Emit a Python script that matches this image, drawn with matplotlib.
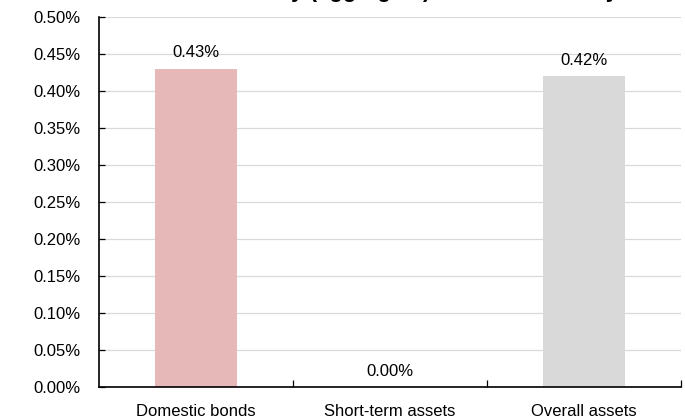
import matplotlib.pyplot as plt
from matplotlib.ticker import FuncFormatter

plt.rcParams['font.family'] = ['Liberation Sans', 'DejaVu Sans']

categories = ["Domestic bonds", "Short-term assets", "Overall assets"]
values = [0.43, 0.00, 0.42]
bar_colors = ["#e6b8b7", "#7f7350", "#d9d9d9"]
title = "Portfolio Volatility (aggregate) Annual Summary"

fig = plt.figure(figsize=(6.85, 4.2), dpi=100)
ax = fig.add_axes([0.1445, 0.0786, 0.8495, 0.8809])

x = range(len(categories))
bars = ax.bar(x, values, width=0.42, color=bar_colors, zorder=2)
# the zero bar still shows as a thin line
bars[1].set_edgecolor("#7f7350")
bars[1].set_linewidth(0.8)

for xi, v in zip(x, values):
    ax.annotate("%.2f%%" % v, (xi, v), xytext=(0, 6), textcoords="offset points",
                ha="center", va="bottom", fontsize=12)

ax.set_xlim(-0.5, 2.5)
ax.set_ylim(0, 0.5)
ax.set_yticks([i * 0.05 for i in range(11)])
ax.yaxis.set_major_formatter(FuncFormatter(lambda v, p: "%.2f%%" % v))
ax.grid(axis="y", color="#d9d9d9", linewidth=0.9, zorder=0)

ax.set_xticks(list(x))
ax.set_xticklabels(categories)
ax.set_xticks([0.5, 1.5, 2.5], minor=True)
ax.tick_params(axis="x", which="major", length=0, pad=12, labelsize=12)
ax.tick_params(axis="x", which="minor", direction="in", length=5, width=0.9)
ax.tick_params(axis="y", direction="in", length=4, width=0.9, pad=13, labelsize=12)

for s in ["top", "right"]:
    ax.spines[s].set_visible(False)
ax.spines["left"].set_linewidth(1.2)
ax.spines["bottom"].set_linewidth(1.2)

# title sits mostly above the canvas, only the descenders reach in
fig.text(0.535, 0.9955, title, ha="center", va="bottom", fontsize=16, fontweight="bold")

fig.savefig("out.png", dpi=100)
